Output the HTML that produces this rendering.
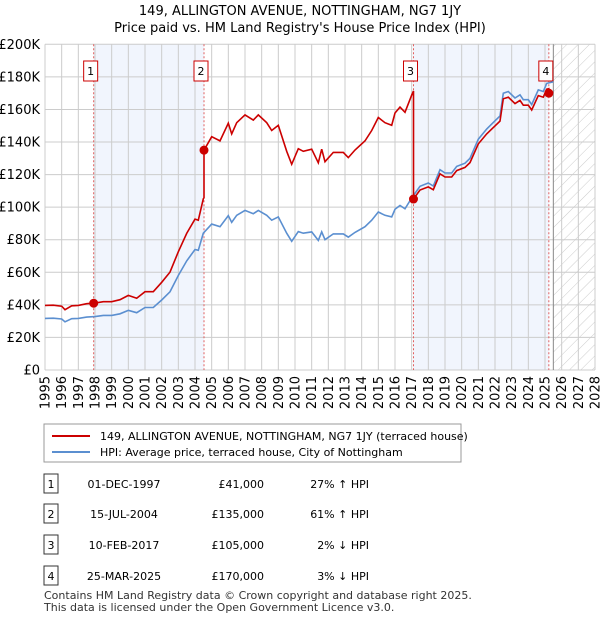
<!DOCTYPE html>
<html><head><meta charset="utf-8"><style>
body{margin:0;background:#fff;font-family:"Liberation Sans","DejaVu Sans",sans-serif;}
svg text{font-family:"DejaVu Sans","Liberation Sans",sans-serif;}
</style></head><body>
<svg id="c" width="600" height="620" xmlns="http://www.w3.org/2000/svg">
<defs><pattern id="hatch" width="8" height="8" patternUnits="userSpaceOnUse" patternTransform="rotate(45)"><line x1="0" y1="0" x2="0" y2="8" stroke="#ccc" stroke-width="1"/></pattern></defs>
<text x="300" y="15" text-anchor="middle" font-size="13">149, ALLINGTON AVENUE, NOTTINGHAM, NG7 1JY</text>
<text x="300" y="32" text-anchor="middle" font-size="13">Price paid vs. HM Land Registry's House Price Index (HPI)</text>
<g id="plot"></g>
<g>
<rect x="44" y="424" width="417" height="38" fill="#fff" stroke="#999"/>
<line x1="52" y1="436" x2="90" y2="436" stroke="#cc0000" stroke-width="2"/>
<text x="100" y="440" font-size="11">149, ALLINGTON AVENUE, NOTTINGHAM, NG7 1JY (terraced house)</text>
<line x1="52" y1="452" x2="90" y2="452" stroke="#5b8fd0" stroke-width="2"/>
<text x="100" y="456" font-size="11">HPI: Average price, terraced house, City of Nottingham</text>
</g>
<g id="table" font-size="11"></g>
<text x="44" y="599" font-size="11" fill="#333">Contains HM Land Registry data © Crown copyright and database right 2025.</text>
<text x="44" y="611" font-size="11" fill="#333">This data is licensed under the Open Government Licence v3.0.</text>
</svg>
<script>
const hpiYears=[1995.0,1995.5,1996.0,1996.2,1996.6,1997.0,1997.5,1998.0,1998.5,1999.0,1999.5,2000.0,2000.5,2001.0,2001.5,2002.0,2002.5,2003.0,2003.5,2004.0,2004.2,2004.5,2005.0,2005.5,2006.0,2006.2,2006.5,2007.0,2007.5,2007.8,2008.3,2008.6,2009.0,2009.5,2009.8,2010.2,2010.5,2011.0,2011.4,2011.6,2011.8,2012.3,2012.9,2013.2,2013.6,2014.2,2014.6,2015.0,2015.4,2015.8,2016.0,2016.3,2016.6,2017.0,2017.5,2018.0,2018.3,2018.7,2019.0,2019.4,2019.7,2020.2,2020.5,2021.0,2021.5,2022.0,2022.3,2022.5,2022.8,2023.2,2023.5,2023.7,2024.0,2024.2,2024.6,2024.9,2025.1,2025.5];
const hpiValues=[31.7,31.8,31.3,29.6,31.5,31.7,32.5,32.8,33.5,33.5,34.5,36.6,35.2,38.4,38.4,43,48,58,67,74,73.5,84,89.6,88,94.8,90.7,95,98,96,98,95,92,94,84,79,85,84,84.8,79.6,84.8,80,83.6,83.6,81.6,84.5,88,92,97,95,94,98.7,101,99,105.6,112.8,114.8,113,123,121,121,125,127,130,141.7,148,153,156,170,171,167,169,166,166,163,172,171,176,177];
const saleDates=[1997.92,2004.54,2017.11,2025.23];
const salePrices=[41,135,105,170];
const saleLabels=["01-DEC-1997","15-JUL-2004","10-FEB-2017","25-MAR-2025"];
const salePriceText=["£41,000","£135,000","£105,000","£170,000"];
const saleHpiText=["27% ↑ HPI","61% ↑ HPI","2% ↓ HPI","3% ↓ HPI"];
const yTicks=[0,20,40,60,80,100,120,140,160,180,200];
const yTickLabels=["£0","£20K","£40K","£60K","£80K","£100K","£120K","£140K","£160K","£180K","£200K"];
const xTicks=[];for(let y=1995;y<=2028;y++)xTicks.push(y);

const NS="http://www.w3.org/2000/svg";
const X0=45,X1=595,Y0=370,Y1=44.3;
const xs=y=>X0+(y-1995)/(2028-1995)*(X1-X0);
const ys=v=>Y0-v/200*(Y0-Y1);
const plot=document.getElementById('plot');
function mk(tag,attrs,parent){const e=document.createElementNS(NS,tag);for(const k in attrs)e.setAttribute(k,attrs[k]);(parent||plot).appendChild(e);return e;}
function hpiAt(t){for(let i=0;i<hpiYears.length-1;i++){if(t<=hpiYears[i+1]){const f=(t-hpiYears[i])/(hpiYears[i+1]-hpiYears[i]);return hpiValues[i]+f*(hpiValues[i+1]-hpiValues[i]);}}return hpiValues[hpiValues.length-1];}
const dataEnd=hpiYears[hpiYears.length-1];
// shaded ownership bands
let b=mk('rect',{x:xs(saleDates[0]),y:Y1,width:xs(saleDates[1])-xs(saleDates[0]),height:Y0-Y1,fill:'#eef3fc',opacity:0.8});


b=mk('rect',{x:xs(saleDates[2]),y:Y1,width:xs(saleDates[3])-xs(saleDates[2]),height:Y0-Y1,fill:'#eef3fc',opacity:0.8});


let h=mk('rect',{x:xs(dataEnd),y:Y1,width:X1-xs(dataEnd),height:Y0-Y1,fill:'url(#hatch)'});


// grid
yTicks.forEach((v,i)=>{
 const l=mk('line',{x1:X0,x2:X1,y1:ys(v),y2:ys(v),stroke:'#ccc','stroke-width':1});
 
 
 const t=mk('text',{x:40,y:ys(v)+4.5,'text-anchor':'end','font-size':13});
 t.textContent=yTickLabels[i];
 
 
});
xTicks.forEach(y=>{
 const l=mk('line',{x1:xs(y),x2:xs(y),y1:Y1,y2:Y0,stroke:'#ccc','stroke-width':1});
 
 
 const t=mk('text',{x:0,y:0,'text-anchor':'end','font-size':13,transform:`translate(${xs(y)+4.5},376) rotate(-90)`});
 t.textContent=y;
 
 
});
let dl=mk('line',{x1:xs(dataEnd),x2:xs(dataEnd),y1:Y1,y2:Y0,stroke:'#888','stroke-width':1});


// sale markers vertical lines
saleDates.forEach((d,i)=>{
 const l=mk('line',{x1:xs(d),x2:xs(d),y1:Y1,y2:Y0,stroke:'#e06060','stroke-width':1,'stroke-dasharray':'2,2'});
 
 
 const r=mk('rect',{x:xs(d)-10,y:61,width:14,height:20,fill:'#fff',stroke:'#cc0000','stroke-width':1});
 
 
 const t=mk('text',{x:xs(d)-3,y:75,'text-anchor':'middle','font-size':11});
 t.textContent=i+1;
 
 
});
// HPI line
let hp=hpiYears.map((y,i)=>xs(y).toFixed(1)+','+ys(hpiValues[i]).toFixed(1)).join(' ');
const hl=mk('polyline',{points:hp,fill:'none',stroke:'#5b8fd0','stroke-width':1.6});


// price line (HPI-scaled between sales)
let pts=[];
function seg(t0,t1,k){const s=[t0];hpiYears.forEach(y=>{if(y>t0&&y<t1)s.push(y)});s.push(t1);s.forEach(y=>pts.push(xs(y).toFixed(1)+','+ys(hpiAt(y)*k).toFixed(1)));}
const bounds=[1995].concat(saleDates.slice(1)).concat([dataEnd]);
for(let i=0;i<saleDates.length;i++){
 const k=salePrices[i]/hpiAt(saleDates[i]);
 const t0=i==0?1995:saleDates[i];
 const t1=i==saleDates.length-1?dataEnd:saleDates[i+1];
 seg(t0,t1,k);
}
const pl=mk('polyline',{points:pts.join(' '),fill:'none',stroke:'#cc0000','stroke-width':1.6});


saleDates.forEach((d,i)=>{
 const c=mk('circle',{cx:xs(d),cy:ys(salePrices[i]),r:4.5,fill:'#cc0000'});
 
 
});
// table
const tb=document.getElementById('table');
const rowY=[484,514,545,576];
saleLabels.forEach((lab,i)=>{
 const y=rowY[i];
 const r=mk('rect',{x:44,y:y-10,width:14,height:19,fill:'#fff',stroke:'#333'},tb);
 
 
 const tn=mk('text',{x:51,y:y+4,'text-anchor':'middle'},tb);tn.textContent=i+1;
 
 
 const t1=mk('text',{x:124,y:y+4,'text-anchor':'middle'},tb);t1.textContent=lab;
 
 
 const t2=mk('text',{x:264,y:y+4,'text-anchor':'end'},tb);t2.textContent=salePriceText[i];
 
 
 const t3=mk('text',{x:369,y:y+4,'text-anchor':'end'},tb);t3.textContent=saleHpiText[i];
 
 
});
</script>
</body></html>
